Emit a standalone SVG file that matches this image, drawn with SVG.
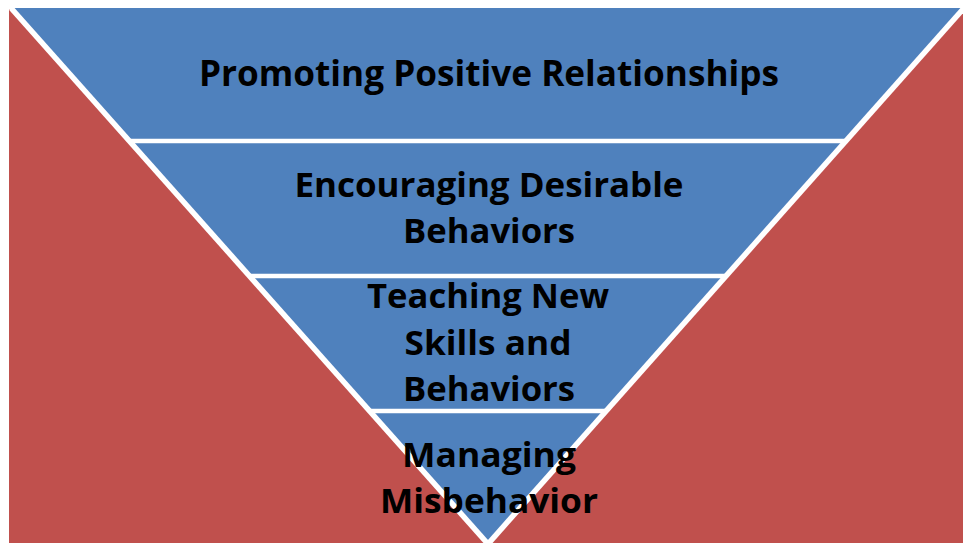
<svg xmlns="http://www.w3.org/2000/svg" width="963" height="543" viewBox="0 0 963 543">
<style>
.t{font-family:"Open Sans","Liberation Sans",sans-serif;font-weight:bold;fill:#000;text-anchor:middle}
.sep{stroke:#fff;stroke-width:4.5}
.edge{stroke:#fff;stroke-width:5.5;stroke-linecap:butt}
</style>
<rect width="963" height="543" fill="#fff"/>
<g id="background">
<rect x="9" y="9" width="954" height="534" fill="#C0504D"/>
</g>
<g id="pyramid">
<polygon points="12,8 963,8 488,543" fill="#4F81BD"/>
</g>
<g id="connectors">
<line class="edge" x1="11" y1="8" x2="488" y2="544"/>
<line class="edge" x1="964" y1="8" x2="488" y2="544"/>
<line class="sep" x1="130" y1="141" x2="845" y2="141"/>
<line class="sep" x1="250" y1="276" x2="725" y2="276"/>
<line class="sep" x1="370" y1="411" x2="605" y2="411"/>
</g>
<g id="level1">
<text class="t" x="489" y="86" font-size="36" textLength="580" lengthAdjust="spacingAndGlyphs">Promoting Positive Relationships</text>
</g>
<g id="level2">
<text class="t" x="489" y="197" font-size="34" textLength="389" lengthAdjust="spacingAndGlyphs">Encouraging Desirable</text>
<text class="t" x="489" y="243" font-size="34" textLength="172" lengthAdjust="spacingAndGlyphs">Behaviors</text>
</g>
<g id="level3">
<text class="t" x="488" y="308" font-size="34" textLength="242" lengthAdjust="spacingAndGlyphs">Teaching New</text>
<text class="t" x="488" y="355" font-size="34" textLength="167" lengthAdjust="spacingAndGlyphs">Skills and</text>
<text class="t" x="489" y="401" font-size="34" textLength="172" lengthAdjust="spacingAndGlyphs">Behaviors</text>
</g>
<g id="level4">
<text class="t" x="489" y="467" font-size="34" textLength="174" lengthAdjust="spacingAndGlyphs">Managing</text>
<text class="t" x="489" y="513" font-size="34" textLength="218" lengthAdjust="spacingAndGlyphs">Misbehavior</text>
</g>
</svg>
